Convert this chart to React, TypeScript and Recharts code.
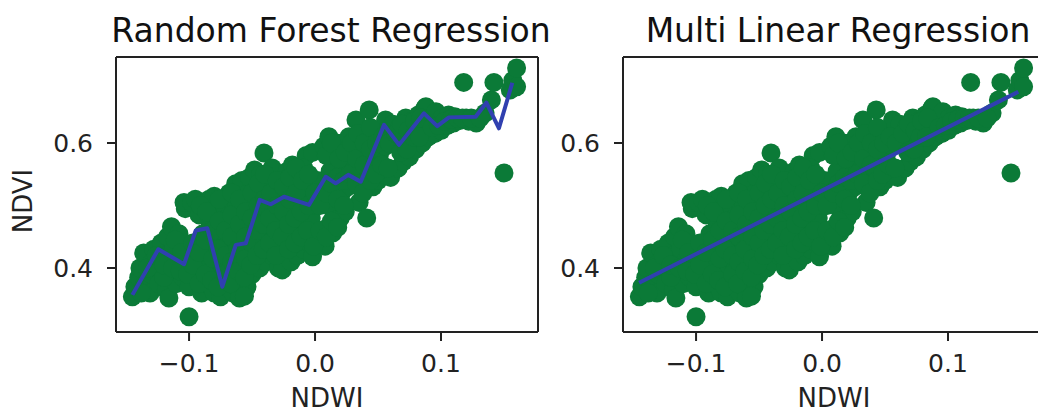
import { ScatterChart, Scatter, XAxis, YAxis } from 'recharts'

// NDWI vs NDVI observations (same sample shown in both panels)
const observed: [number, number][] = [
  [-0.145, 0.354], [-0.143, 0.37], [-0.14, 0.385], [-0.139, 0.4], [-0.136, 0.424], [-0.135, 0.375],
  [-0.131, 0.36], [-0.13, 0.39], [-0.129, 0.41], [-0.128, 0.43],
  [-0.124, 0.375], [-0.123, 0.4], [-0.122, 0.44],
  [-0.118, 0.365], [-0.118, 0.42], [-0.117, 0.45], [-0.116, 0.352], [-0.115, 0.39],
  [-0.114, 0.466], [-0.112, 0.43],
  [-0.11, 0.375], [-0.109, 0.41], [-0.108, 0.455],
  [-0.105, 0.385], [-0.104, 0.44], [-0.103, 0.495], [-0.104, 0.505],
  [-0.1, 0.322], [-0.1, 0.37], [-0.099, 0.42], [-0.098, 0.505],
  [-0.095, 0.39], [-0.094, 0.44], [-0.092, 0.485], [-0.095, 0.51],
  [-0.09, 0.36], [-0.09, 0.41], [-0.089, 0.455], [-0.088, 0.5],
  [-0.085, 0.375], [-0.084, 0.43], [-0.083, 0.47], [-0.084, 0.51],
  [-0.08, 0.36], [-0.079, 0.4], [-0.079, 0.445], [-0.078, 0.49], [-0.08, 0.515],
  [-0.075, 0.354], [-0.074, 0.38], [-0.073, 0.42], [-0.074, 0.46], [-0.072, 0.5],
  [-0.07, 0.37], [-0.069, 0.4], [-0.068, 0.44], [-0.069, 0.48], [-0.068, 0.52],
  [-0.065, 0.36], [-0.064, 0.39], [-0.063, 0.43], [-0.064, 0.465], [-0.062, 0.5], [-0.063, 0.535],
  [-0.06, 0.352], [-0.059, 0.38], [-0.058, 0.41], [-0.058, 0.45], [-0.057, 0.49], [-0.058, 0.54],
  [-0.054, 0.37], [-0.053, 0.4], [-0.053, 0.43], [-0.052, 0.47], [-0.053, 0.52], [-0.052, 0.545],
  [-0.05, 0.39], [-0.049, 0.42], [-0.048, 0.46], [-0.047, 0.5], [-0.048, 0.557],
  [-0.044, 0.4], [-0.044, 0.44], [-0.043, 0.48], [-0.042, 0.52], [-0.043, 0.55],
  [-0.0405, 0.584], [-0.039, 0.41], [-0.038, 0.455], [-0.038, 0.49], [-0.037, 0.53],
  [-0.034, 0.42], [-0.033, 0.46], [-0.033, 0.5], [-0.032, 0.54], [-0.034, 0.56],
  [-0.029, 0.4], [-0.028, 0.44], [-0.028, 0.48], [-0.027, 0.52],
  [-0.026, 0.397], [-0.024, 0.43], [-0.023, 0.47], [-0.023, 0.51], [-0.022, 0.555],
  [-0.019, 0.41], [-0.018, 0.45], [-0.018, 0.49], [-0.017, 0.53], [-0.018, 0.565],
  [-0.014, 0.42], [-0.013, 0.46], [-0.012, 0.5], [-0.013, 0.545],
  [-0.009, 0.43], [-0.008, 0.47], [-0.008, 0.52], [-0.007, 0.58], [-0.009, 0.56],
  [-0.004, 0.44], [-0.003, 0.48], [-0.003, 0.53], [-0.002, 0.585],
  [-0.002, 0.418], [0.001, 0.45], [0.002, 0.5], [0.002, 0.54],
  [0.006, 0.44], [0.007, 0.52], [0.007, 0.595], [0.008, 0.435],
  [0.011, 0.61], [0.01, 0.465], [0.011, 0.5], [0.012, 0.555],
  [0.014, 0.456], [0.015, 0.49], [0.016, 0.53], [0.016, 0.58], [0.017, 0.6],
  [0.02, 0.48], [0.021, 0.52], [0.021, 0.56], [0.022, 0.6],
  [0.024, 0.49], [0.026, 0.53], [0.026, 0.57], [0.027, 0.61],
  [0.0325, 0.637], [0.031, 0.555], [0.031, 0.59],
  [0.035, 0.505], [0.036, 0.54], [0.036, 0.58], [0.037, 0.61],
  [0.041, 0.48], [0.043, 0.653], [0.041, 0.56], [0.042, 0.6],
  [0.046, 0.53], [0.046, 0.57], [0.047, 0.61],
  [0.05, 0.54], [0.051, 0.58], [0.052, 0.62],
  [0.055, 0.55], [0.056, 0.595], [0.056, 0.637],
  [0.06, 0.545], [0.061, 0.61], [0.062, 0.63],
  [0.066, 0.56], [0.066, 0.6], [0.067, 0.625],
  [0.07, 0.57], [0.071, 0.61], [0.072, 0.64],
  [0.075, 0.578], [0.076, 0.6], [0.077, 0.635],
  [0.08, 0.59], [0.081, 0.62], [0.082, 0.645],
  [0.085, 0.6], [0.086, 0.63], [0.087, 0.655],
  [0.09, 0.61], [0.091, 0.64], [0.088, 0.658],
  [0.095, 0.615], [0.096, 0.635], [0.096, 0.65],
  [0.1, 0.62], [0.101, 0.64], [0.105, 0.628], [0.106, 0.645],
  [0.11, 0.632], [0.111, 0.642], [0.115, 0.636], [0.118, 0.697],
  [0.12, 0.64], [0.122, 0.635], [0.128, 0.632], [0.135, 0.648],
  [0.14, 0.669], [0.142, 0.697], [0.15, 0.552],
  [0.155, 0.685], [0.157, 0.7], [0.16, 0.69], [0.16, 0.72],
  // denser middle of the cloud
  [-0.138, 0.36], [-0.133, 0.4], [-0.126, 0.42], [-0.12, 0.385], [-0.12, 0.405], [-0.113, 0.4],
  [-0.111, 0.445], [-0.107, 0.395], [-0.106, 0.425], [-0.101, 0.39], [-0.097, 0.405], [-0.097, 0.44],
  [-0.092, 0.375], [-0.092, 0.425], [-0.091, 0.5], [-0.087, 0.39], [-0.087, 0.445], [-0.086, 0.49],
  [-0.082, 0.38], [-0.081, 0.415], [-0.081, 0.46], [-0.077, 0.37], [-0.077, 0.43], [-0.076, 0.475],
  [-0.076, 0.51], [-0.071, 0.39], [-0.071, 0.42], [-0.071, 0.46], [-0.067, 0.375], [-0.066, 0.41],
  [-0.066, 0.45], [-0.066, 0.485], [-0.066, 0.52], [-0.061, 0.395], [-0.061, 0.43], [-0.06, 0.47],
  [-0.06, 0.51], [-0.056, 0.355], [-0.056, 0.385], [-0.055, 0.415], [-0.055, 0.45], [-0.055, 0.49],
  [-0.051, 0.405], [-0.05, 0.44], [-0.05, 0.48], [-0.05, 0.52], [-0.046, 0.42], [-0.046, 0.46],
  [-0.045, 0.5], [-0.045, 0.535], [-0.041, 0.43], [-0.041, 0.47], [-0.04, 0.51], [-0.04, 0.55],
  [-0.036, 0.44], [-0.036, 0.48], [-0.035, 0.52], [-0.031, 0.42], [-0.031, 0.46], [-0.03, 0.5],
  [-0.03, 0.54], [-0.026, 0.45], [-0.025, 0.49], [-0.025, 0.53], [-0.021, 0.43], [-0.021, 0.47],
  [-0.02, 0.51], [-0.02, 0.545], [-0.016, 0.44], [-0.016, 0.48], [-0.015, 0.52], [-0.015, 0.56],
  [-0.011, 0.45], [-0.011, 0.49], [-0.01, 0.54], [-0.006, 0.46], [-0.005, 0.5], [-0.005, 0.55],
  [-0.001, 0.435], [0, 0.52], [0.004, 0.46], [0.004, 0.5], [0.009, 0.45], [0.009, 0.52],
  [0.009, 0.58], [0.013, 0.475], [0.013, 0.535], [0.013, 0.6], [0.018, 0.465], [0.018, 0.51],
  [0.018, 0.545], [0.019, 0.575], [0.023, 0.5], [0.023, 0.54], [0.024, 0.585], [0.028, 0.55],
  [0.029, 0.6], [0.033, 0.535], [0.033, 0.575], [0.034, 0.615], [0.038, 0.52], [0.039, 0.565],
  [0.039, 0.6], [0.044, 0.54], [0.044, 0.59], [0.044, 0.625], [0.048, 0.55], [0.049, 0.6],
  [0.053, 0.565], [0.054, 0.61], [0.058, 0.56], [0.059, 0.6], [0.064, 0.615], [0.068, 0.585],
  [0.069, 0.63], [0.073, 0.59], [0.074, 0.62], [0.078, 0.61], [0.079, 0.635], [0.083, 0.61],
  [0.084, 0.64], [0.093, 0.625], [0.098, 0.628], [0.103, 0.635], [0.108, 0.638], [0.113, 0.64],
  [0.117, 0.64], [0.124, 0.64], [0.131, 0.64],
]

// Random forest predictions, sorted by NDWI
const rfFit: [number, number][] = [
  [-0.145, 0.357], [-0.1244, 0.43], [-0.104, 0.406], [-0.0947, 0.46], [-0.0855, 0.4635],
  [-0.0736, 0.37], [-0.0629, 0.437], [-0.055, 0.4395], [-0.0439, 0.509], [-0.0352, 0.502],
  [-0.0246, 0.514], [-0.0048, 0.501], [0.0085, 0.546], [0.0164, 0.5355], [0.0264, 0.549],
  [0.0363, 0.538], [0.0548, 0.629], [0.0667, 0.597], [0.0865, 0.6475], [0.097, 0.627],
  [0.1063, 0.641], [0.1275, 0.642], [0.136, 0.6645], [0.146, 0.6235], [0.1566, 0.6965],
]

// Multi linear regression fit (end points)
const mlrFit: [number, number][] = [[-0.1452, 0.3765], [0.1558, 0.682]]

const xTicks = [-0.1, 0, 0.1]
const yTicks = [0.4, 0.6]
const xDomain: [number, number] = [-0.158, 0.177]
const yDomain: [number, number] = [0.2976, 0.7376]

const GREEN = '#0b7a37'
const BLUE = '#3040b0'
const INK = '#222222'
const FONT = '"DejaVu Sans", sans-serif'

const toRows = (pts: [number, number][]) => pts.map(([ndwi, ndvi]) => ({ ndwi, ndvi }))
const observedRows = toRows(observed)

const fmtX = (v: number) => (v < 0 ? `\u2212${Math.abs(v).toFixed(1)}` : v.toFixed(1))
const fmtY = (v: number) => v.toFixed(1)

function Dot(props: { cx?: number; cy?: number }) {
  if (props.cx === undefined || props.cy === undefined) return <g />
  return <circle cx={props.cx} cy={props.cy} r={9.5} fill={GREEN} />
}

interface PanelProps {
  title: string
  fit: [number, number][]
  left: number
  width: number
  yAxisWidth: number
  rightMargin: number
  showYLabel: boolean
}

function Panel({ title, fit, left, width, yAxisWidth, rightMargin, showYLabel }: PanelProps) {
  const mid = (yAxisWidth + width - rightMargin) / 2
  const axisLine = { stroke: INK, strokeWidth: 2 }
  return (
    <div style={{ position: 'absolute', left, top: 0 }}>
      <ScatterChart
        width={width}
        height={414}
        margin={{ top: 56, right: rightMargin - 1, bottom: 0, left: 0 }}
      >
        <XAxis
          type="number"
          dataKey="ndwi"
          domain={xDomain}
          ticks={xTicks}
          interval={0}
          tickFormatter={fmtX}
          height={82}
          tickSize={9}
          tickMargin={13}
          axisLine={axisLine}
          tickLine={axisLine}
          tick={{ fill: INK, fontSize: 25 }}
          label={() => (
            <text x={mid} y={407} textAnchor="middle" fill={INK} fontSize={26}>
              NDWI
            </text>
          )}
        />
        {/* top spine, carries the panel title */}
        <XAxis
          xAxisId="top"
          orientation="top"
          type="number"
          dataKey="ndwi"
          domain={xDomain}
          ticks={xTicks}
          height={1}
          tick={false}
          tickLine={false}
          axisLine={axisLine}
          label={() => (
            <text x={mid + 4} y={42} textAnchor="middle" fill="#111" fontSize={33}>
              {title}
            </text>
          )}
        />
        <YAxis
          type="number"
          dataKey="ndvi"
          domain={yDomain}
          ticks={yTicks}
          interval={0}
          tickFormatter={fmtY}
          width={yAxisWidth}
          tickSize={9}
          tickMargin={14}
          axisLine={axisLine}
          tickLine={axisLine}
          tick={{ fill: INK, fontSize: 25 }}
          label={
            showYLabel
              ? () => (
                  <text
                    x={32}
                    y={201}
                    textAnchor="middle"
                    fill={INK}
                    fontSize={26}
                    transform="rotate(-90, 32, 201)"
                  >
                    NDVI
                  </text>
                )
              : undefined
          }
        />
        {/* right spine */}
        <YAxis
          yAxisId="right"
          orientation="right"
          type="number"
          dataKey="ndvi"
          domain={yDomain}
          ticks={yTicks}
          width={1}
          tick={false}
          tickLine={false}
          axisLine={axisLine}
        />
        <Scatter data={observedRows} shape={<Dot />} isAnimationActive={false} />
        <Scatter
          data={toRows(fit)}
          shape={() => <g />}
          line={{ stroke: BLUE, strokeWidth: 4, strokeLinejoin: 'round' }}
          isAnimationActive={false}
        />
      </ScatterChart>
    </div>
  )
}

export default function App() {
  return (
    <div
      style={{
        position: 'absolute',
        left: 0,
        top: 0,
        width: 1038,
        height: 414,
        overflow: 'hidden',
        background: '#fff',
        fontFamily: FONT,
      }}
    >
      <Panel
        title="Random Forest Regression"
        fit={rfFit}
        left={0}
        width={560}
        yAxisWidth={116}
        rightMargin={22}
        showYLabel
      />
      <Panel
        title="Multi Linear Regression"
        fit={mlrFit}
        left={560}
        width={500}
        yAxisWidth={63}
        rightMargin={15}
        showYLabel={false}
      />
    </div>
  )
}
